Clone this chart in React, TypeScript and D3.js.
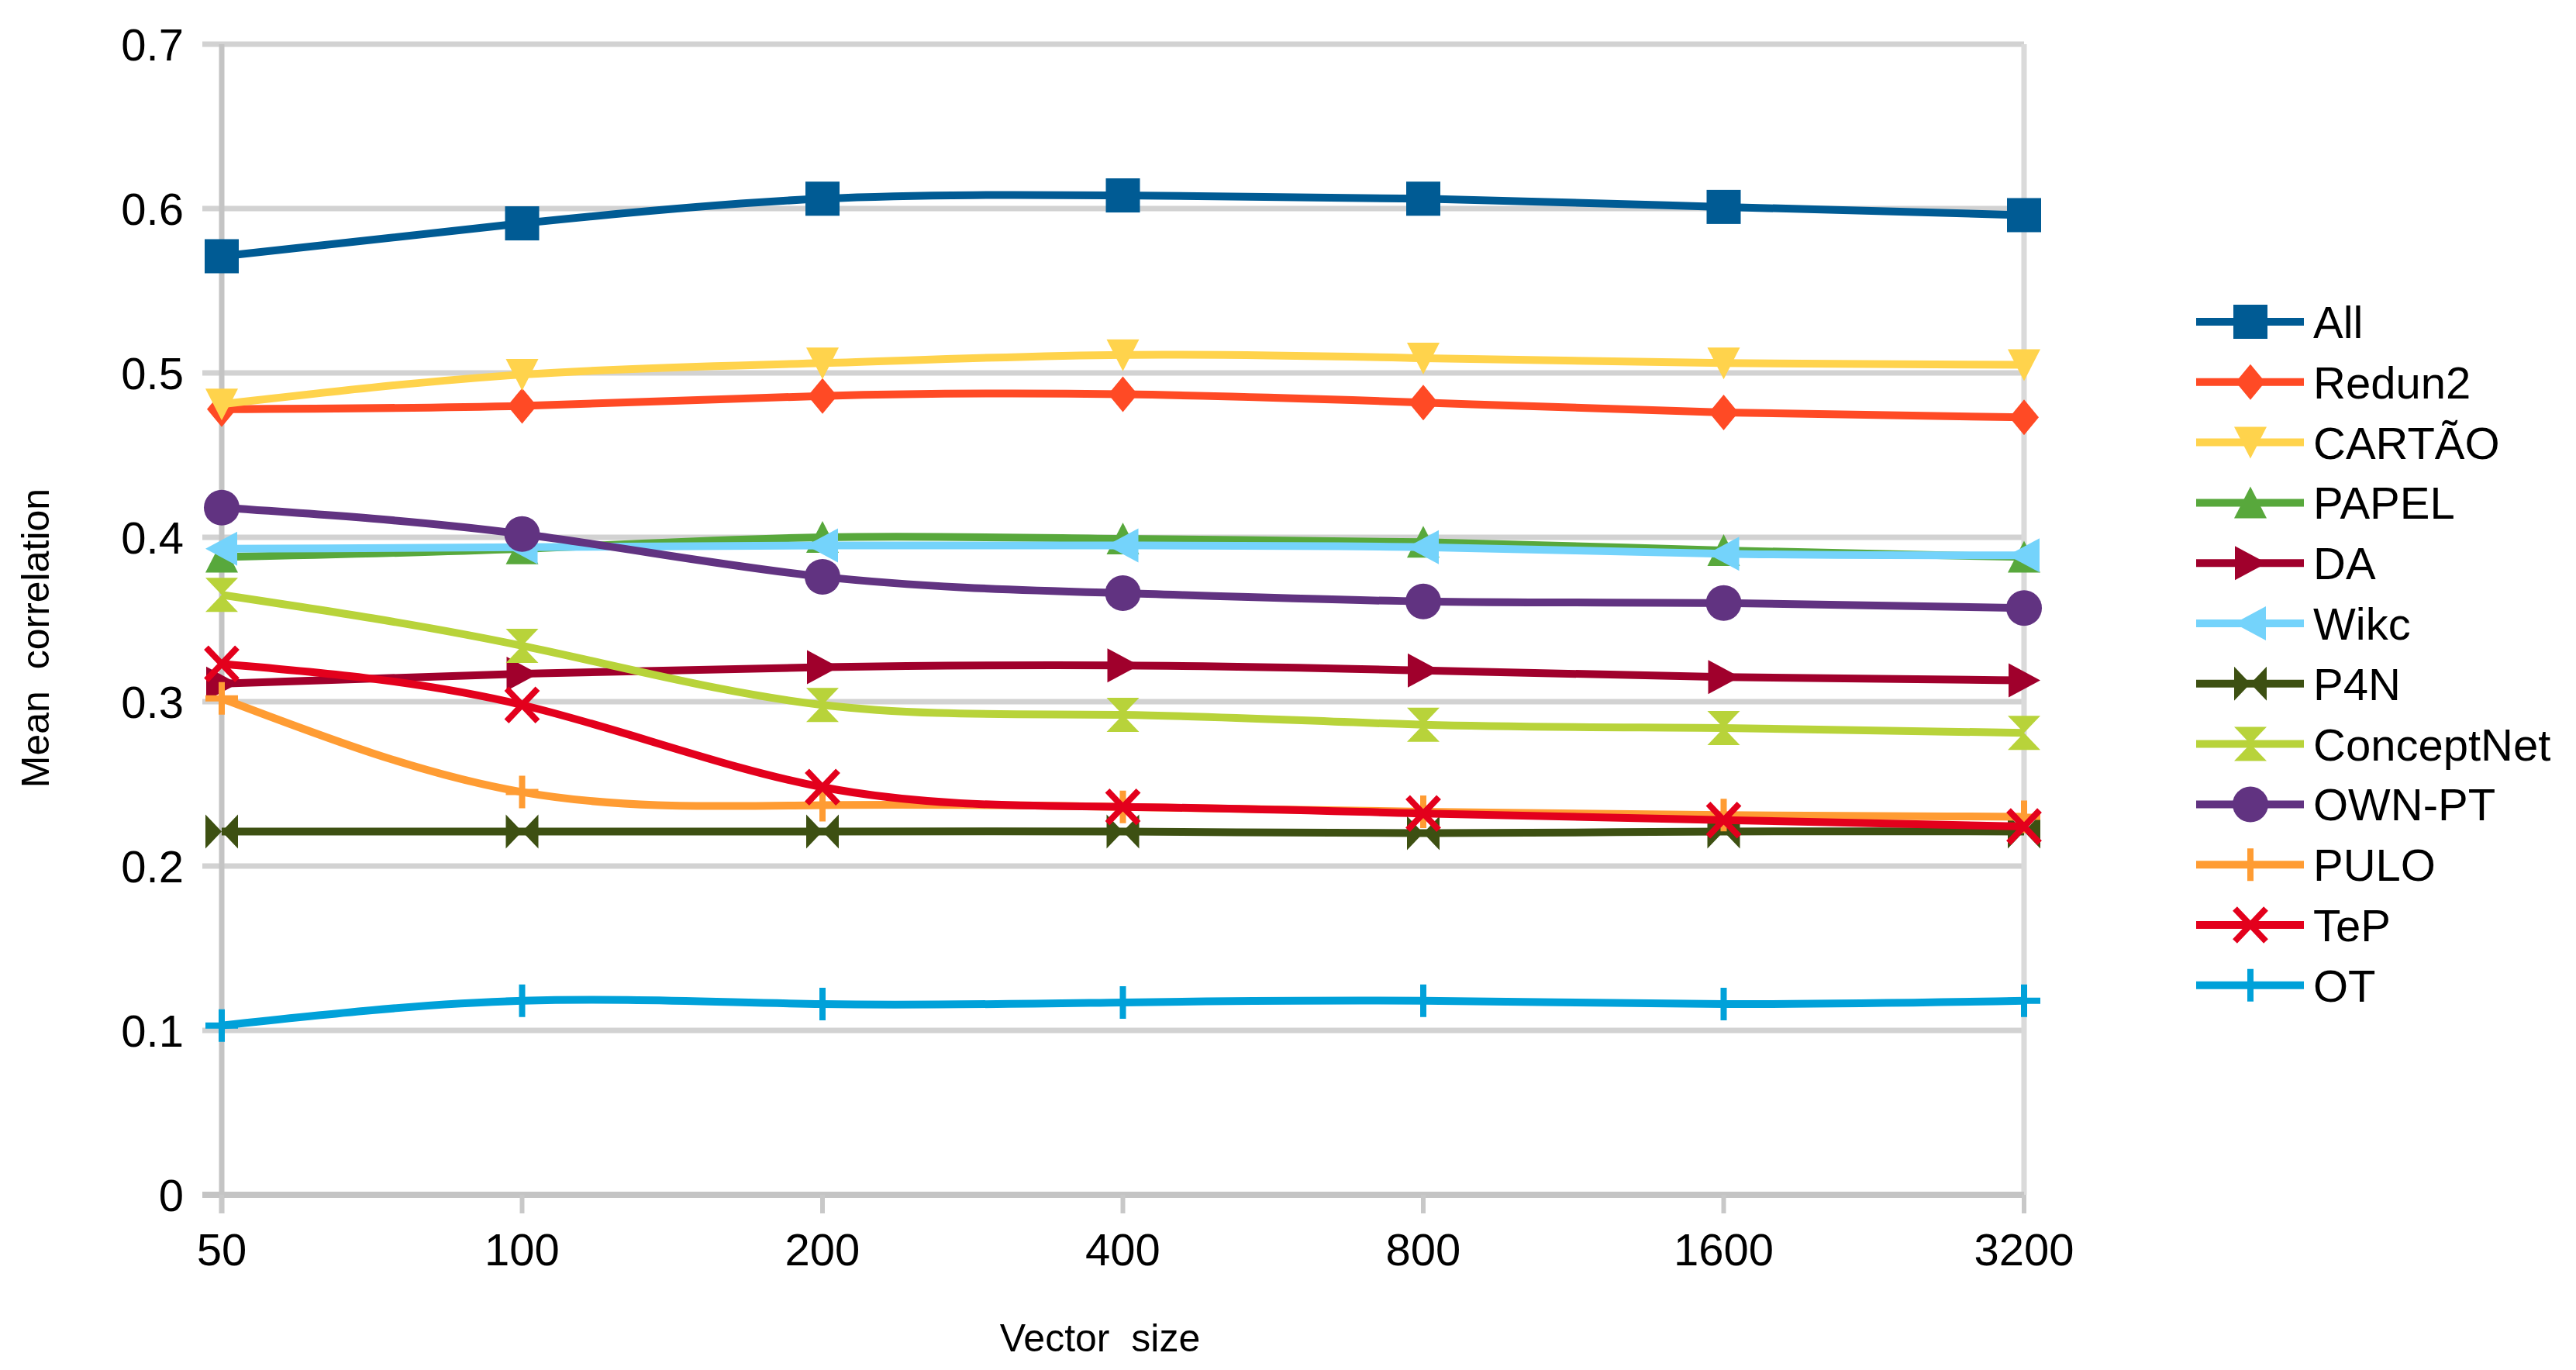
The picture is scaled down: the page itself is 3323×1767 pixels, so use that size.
import React, { useEffect, useRef } from 'react'
import * as d3 from 'd3'

const vectorSizes = ['50', '100', '200', '400', '800', '1600', '3200']
const yTickValues = [0, 0.1, 0.2, 0.3, 0.4, 0.5, 0.6, 0.7]

const seriesNames = ['All', 'Redun2', 'CARTÃO', 'PAPEL', 'DA', 'Wikc', 'P4N', 'ConceptNet', 'OWN-PT', 'PULO', 'TeP', 'OT']

const allValues = [0.571, 0.591, 0.606, 0.608, 0.606, 0.601, 0.596]
const redun2Values = [0.478, 0.48, 0.486, 0.487, 0.482, 0.476, 0.473]
const cartaoValues = [0.481, 0.499, 0.506, 0.511, 0.509, 0.506, 0.505]
const papelValues = [0.388, 0.393, 0.4, 0.399, 0.397, 0.392, 0.388]
const daValues = [0.311, 0.317, 0.321, 0.322, 0.319, 0.315, 0.313]
const wikcValues = [0.393, 0.394, 0.395, 0.395, 0.394, 0.39, 0.389]
const p4nValues = [0.221, 0.221, 0.221, 0.221, 0.22, 0.221, 0.221]
const conceptNetValues = [0.365, 0.334, 0.298, 0.292, 0.286, 0.284, 0.281]
const ownPtValues = [0.418, 0.402, 0.376, 0.366, 0.361, 0.36, 0.357]
const puloValues = [0.302, 0.245, 0.237, 0.236, 0.233, 0.231, 0.23]
const tepValues = [0.323, 0.298, 0.248, 0.236, 0.232, 0.228, 0.224]
const otValues = [0.103, 0.118, 0.116, 0.117, 0.118, 0.116, 0.118]

const seriesValues = [
  allValues, redun2Values, cartaoValues, papelValues, daValues, wikcValues,
  p4nValues, conceptNetValues, ownPtValues, puloValues, tepValues, otValues,
]

const seriesColors = [
  '#005b94', '#ff4a25', '#ffd34c', '#58a83c', '#a0002c', '#74d3fb',
  '#3d5012', '#b8d33a', '#613381', '#ff9c33', '#e3001c', '#00a1d9',
]

const seriesMarkers = [
  'square', 'diamond', 'down', 'up', 'right', 'left',
  'bowtie', 'hourglass', 'circle', 'plus', 'cross', 'plus',
]

const W = 3323
const H = 1767
const FONT = "'Liberation Sans', Arial, sans-serif"

const shapePaths: Record<string, string> = {
  diamond: 'M0,-23L19,0L0,23L-19,0Z',
  down: 'M-21,-20L21,-20L0,21Z',
  up: 'M-21,20L21,20L0,-21Z',
  right: 'M-20,-22L21,0L-20,22Z',
  left: 'M20,-22L-21,0L20,22Z',
  bowtie: 'M-21,-22L0,0L-21,22Z M21,-22L0,0L21,22Z',
  hourglass: 'M-21,-22L21,-22L0,0Z M-21,22L21,22L0,0Z',
}

function drawMarker(g: any, kind: string, color: string) {
  if (kind === 'square') {
    g.append('rect').attr('x', -22).attr('y', -22).attr('width', 44).attr('height', 44).attr('fill', color)
  } else if (kind === 'circle') {
    g.append('circle').attr('r', 23).attr('fill', color)
  } else if (kind === 'plus') {
    g.append('path').attr('d', 'M0,-21V21M-21,0H21').attr('stroke', color).attr('stroke-width', 8).attr('fill', 'none')
  } else if (kind === 'cross') {
    g.append('path').attr('d', 'M-20,-21L20,21M20,-21L-20,21').attr('stroke', color).attr('stroke-width', 8).attr('fill', 'none')
  } else {
    g.append('path').attr('d', shapePaths[kind]).attr('fill', color)
  }
}

const App: React.FC = () => {
  const svgRef = useRef<SVGSVGElement>(null)

  useEffect(() => {
    const svg = d3.select(svgRef.current)
    svg.selectAll('*').remove()

    const x = d3.scalePoint<string>().domain(vectorSizes).range([286, 2611])
    const y = d3.scaleLinear().domain([0, 0.7]).range([1541, 57])

    // grid lines
    svg.append('g')
      .selectAll('line')
      .data(yTickValues.slice(1))
      .enter().append('line')
      .attr('x1', 261).attr('x2', 2611)
      .attr('y1', d => y(d)).attr('y2', d => y(d))
      .attr('stroke', '#d2d2d2')
      .attr('stroke-width', 7)

    // right border
    svg.append('line')
      .attr('x1', 2611).attr('x2', 2611)
      .attr('y1', y(0.7)).attr('y2', y(0))
      .attr('stroke', '#dadada')
      .attr('stroke-width', 7)

    // left axis
    svg.append('line')
      .attr('x1', 286).attr('x2', 286)
      .attr('y1', y(0.7)).attr('y2', 1565)
      .attr('stroke', '#c4c4c4')
      .attr('stroke-width', 7)

    // bottom axis + ticks
    svg.append('line')
      .attr('x1', 261).attr('x2', 2611)
      .attr('y1', y(0)).attr('y2', y(0))
      .attr('stroke', '#c4c4c4')
      .attr('stroke-width', 8)

    svg.append('g')
      .selectAll('line')
      .data(vectorSizes)
      .enter().append('line')
      .attr('x1', d => x(d)!).attr('x2', d => x(d)!)
      .attr('y1', y(0)).attr('y2', 1565)
      .attr('stroke', '#c8c8c8')
      .attr('stroke-width', 6)

    // y tick labels
    svg.append('g')
      .selectAll('text')
      .data(yTickValues)
      .enter().append('text')
      .attr('x', 237)
      .attr('y', d => y(d) + 21)
      .attr('text-anchor', 'end')
      .attr('font-family', FONT)
      .attr('font-size', 58)
      .attr('fill', '#000')
      .text(d => (d === 0 ? '0' : d3.format('.1f')(d)))

    // x tick labels
    svg.append('g')
      .selectAll('text')
      .data(vectorSizes)
      .enter().append('text')
      .attr('x', d => x(d)!)
      .attr('y', 1632)
      .attr('text-anchor', 'middle')
      .attr('font-family', FONT)
      .attr('font-size', 58)
      .attr('fill', '#000')
      .text(d => d)

    // axis titles
    svg.append('text')
      .attr('x', 1419)
      .attr('y', 1743)
      .attr('text-anchor', 'middle')
      .attr('font-family', FONT)
      .attr('font-size', 50)
      .style('white-space', 'pre')
      .text('Vector  size')

    svg.append('text')
      .attr('transform', 'translate(63,823) rotate(-90)')
      .attr('text-anchor', 'middle')
      .attr('font-family', FONT)
      .attr('font-size', 50)
      .style('white-space', 'pre')
      .text('Mean  correlation')

    // series
    const line = d3.line<number>()
      .x((_, i) => x(vectorSizes[i])!)
      .y(d => y(d))
      .curve(d3.curveNatural)

    seriesValues.forEach((values, si) => {
      const g = svg.append('g')
      g.append('path')
        .datum(values)
        .attr('fill', 'none')
        .attr('stroke', seriesColors[si])
        .attr('stroke-width', 10)
        .attr('d', line)

      values.forEach((v, i) => {
        const m = g.append('g').attr('transform', `translate(${x(vectorSizes[i])},${y(v)})`)
        drawMarker(m, seriesMarkers[si], seriesColors[si])
      })
    })

    // legend
    const legend = svg.append('g')
    seriesNames.forEach((name, i) => {
      const ly = 415 + i * 77.8
      const row = legend.append('g').attr('transform', `translate(0,${ly})`)
      row.append('line')
        .attr('x1', 2833).attr('x2', 2972)
        .attr('y1', 0).attr('y2', 0)
        .attr('stroke', seriesColors[i])
        .attr('stroke-width', 10)
      const m = row.append('g').attr('transform', 'translate(2903,0)')
      drawMarker(m, seriesMarkers[i], seriesColors[i])
      row.append('text')
        .attr('x', 2984)
        .attr('y', 21)
        .attr('font-family', FONT)
        .attr('font-size', 58)
        .attr('fill', '#000')
        .text(name)
    })
  }, [])

  return (
    <svg
      ref={svgRef}
      width={W}
      height={H}
      style={{ position: 'absolute', left: 0, top: 0, background: '#fff', display: 'block' }}
    />
  )
}

export default App
